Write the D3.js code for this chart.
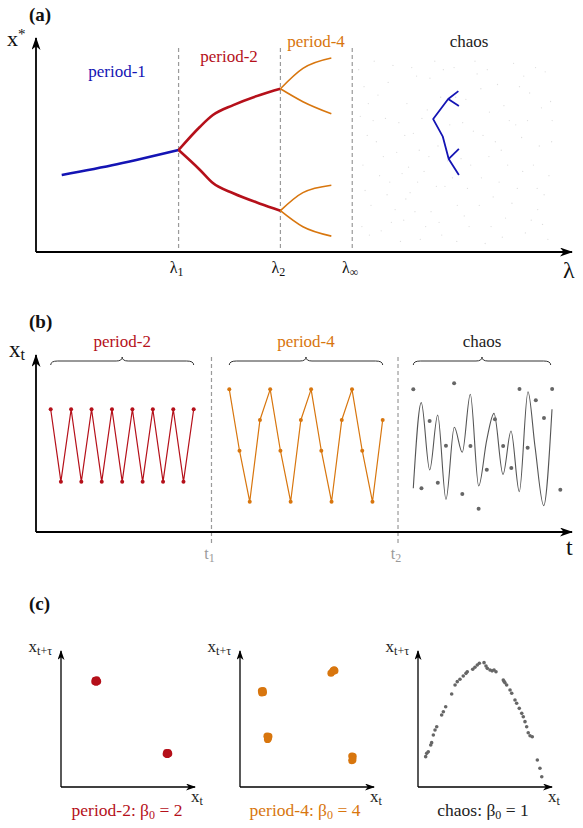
<!DOCTYPE html>
<html>
<head>
<meta charset="utf-8">
<script src="https://cdn.jsdelivr.net/npm/d3@7"></script>
<style>
body { margin: 0; background: #fff; }
</style>
</head>
<body>
<script>
// ---------- panel (a): bifurcation sketch (lambda 0..10, x* 0..1) ----------
var lamTicks = [2.66, 4.56, 5.9];
var lamTickSubs = ["1", "2", "∞"];

var period1 = [[0.48, 0.363], [1.51, 0.414], [2.66, 0.481]];
var period2Up = [[2.66, 0.481], [3.06, 0.591], [3.30, 0.646], [3.68, 0.693], [4.18, 0.741], [4.56, 0.770]];
var period2Down = [[2.66, 0.481], [3.06, 0.387], [3.30, 0.325], [3.68, 0.277], [4.18, 0.228], [4.56, 0.195]];
var period4Branches = [
  [[4.56, 0.770], [4.98, 0.866], [5.51, 0.915]],
  [[4.56, 0.770], [4.98, 0.709], [5.51, 0.652]],
  [[4.56, 0.195], [4.98, 0.280], [5.51, 0.315]],
  [[4.56, 0.195], [4.98, 0.119], [5.51, 0.075]]
];
var treeStem = [[7.88, 0.759], [7.69, 0.722], [7.41, 0.627], [7.59, 0.544], [7.70, 0.439], [7.89, 0.363]];
var treeTwigs = [
  [[7.69, 0.722], [7.89, 0.689]],
  [[7.70, 0.439], [7.89, 0.486]]
];
var chaosCloud = [
  [6.02, 0.86], [6.10, 0.41], [6.18, 0.55], [6.25, 0.22], [6.31, 0.90], [6.38, 0.74], [6.44, 0.10], [6.52, 0.63],
  [6.60, 0.33], [6.66, 0.88], [6.73, 0.47], [6.80, 0.05], [6.86, 0.15], [6.92, 0.70], [6.98, 0.28], [7.04, 0.56],
  [7.10, 0.83], [7.17, 0.06], [7.24, 0.38], [7.30, 0.67], [7.37, 0.19], [7.44, 0.90], [7.50, 0.50], [7.57, 0.08],
  [7.63, 0.31], [7.72, 0.60], [7.80, 0.87], [7.86, 0.22], [7.93, 0.44], [8.02, 0.72], [8.08, 0.12], [8.16, 0.57],
  [8.23, 0.84], [8.31, 0.35], [8.38, 0.04], [8.46, 0.66], [8.53, 0.26], [8.61, 0.79], [8.68, 0.48], [8.76, 0.16],
  [8.83, 0.62], [8.91, 0.89], [8.98, 0.30], [9.06, 0.54], [9.13, 0.09], [9.21, 0.75], [9.28, 0.41], [9.36, 0.20],
  [9.43, 0.68], [9.50, 0.85], [9.57, 0.36], [9.62, 0.52], [6.48, 0.45], [6.95, 0.40], [7.35, 0.82], [7.85, 0.05],
  [8.30, 0.77], [8.70, 0.07], [9.10, 0.83], [9.45, 0.13], [6.20, 0.70], [6.70, 0.20], [7.55, 0.73], [8.45, 0.45],
  [8.95, 0.60], [9.35, 0.30], [6.08, 0.12], [7.15, 0.48], [8.05, 0.30], [9.60, 0.71],
  [6.05, 0.64], [6.14, 0.29], [6.22, 0.08], [6.35, 0.52], [6.41, 0.36], [6.57, 0.80], [6.63, 0.14], [6.77, 0.61],
  [6.83, 0.37], [6.90, 0.25], [7.01, 0.87], [7.07, 0.19], [7.20, 0.63], [7.27, 0.12], [7.33, 0.45], [7.47, 0.31],
  [7.52, 0.14], [7.60, 0.86], [7.68, 0.43], [7.77, 0.35], [7.83, 0.73], [7.96, 0.61], [7.99, 0.17], [8.11, 0.41],
  [8.19, 0.90], [8.27, 0.22], [8.34, 0.55], [8.42, 0.86], [8.49, 0.12], [8.57, 0.52], [8.64, 0.33], [8.73, 0.69],
  [8.80, 0.41], [8.88, 0.23], [9.02, 0.78], [9.08, 0.38], [9.17, 0.62], [9.24, 0.15], [9.32, 0.87], [9.39, 0.50],
  [9.48, 0.27], [9.55, 0.06], [9.63, 0.62], [6.12, 0.78], [6.29, 0.62], [6.55, 0.27], [6.88, 0.55], [7.12, 0.33]
];

// ---------- panel (b): time series (t 0..100, x_t 0..1) ----------
var tMarks = [32.74, 67.54];
var tMarkSubs = ["1", "2"];
var p2Span = [2.74, 29.42];
var p2Values = [0.722, 0.296, 0.722, 0.296, 0.722, 0.296, 0.722, 0.296, 0.722, 0.296, 0.722, 0.296, 0.722, 0.296, 0.722];
var p4Span = [36.06, 64.68];
var p4Values = [0.839, 0.478, 0.178, 0.659, 0.839, 0.478, 0.178, 0.659, 0.839, 0.478, 0.178, 0.659, 0.839, 0.478, 0.178, 0.659];
var chSpan = [70.39, 97.82];
var chValues = [0.839, 0.257, 0.653, 0.290, 0.508, 0.875, 0.224, 0.506, 0.137, 0.366, 0.663, 0.506, 0.376, 0.841, 0.496, 0.775, 0.671, 0.841, 0.249];
var chCurve = [
  [70.39, 0.257], [71.88, 0.761], [73.45, 0.365], [74.94, 0.688], [76.49, 0.192], [78.04, 0.616],
  [79.53, 0.469], [81.03, 0.810], [82.59, 0.271], [84.09, 0.541], [85.45, 0.698], [87.13, 0.339],
  [88.62, 0.594], [90.17, 0.237], [91.79, 0.825], [93.10, 0.502], [94.72, 0.155], [96.27, 0.722]
];

// ---------- panel (c): delay embeddings (0..1 each) ----------
var embP2 = [
  [0.262, 0.810], [0.275, 0.814], [0.283, 0.800], [0.270, 0.792], [0.259, 0.798], [0.278, 0.805], [0.266, 0.803],
  [0.812, 0.262], [0.825, 0.263], [0.830, 0.252], [0.818, 0.245], [0.808, 0.250], [0.822, 0.255]
];
var embP4 = [
  [0.165, 0.728], [0.178, 0.730], [0.180, 0.716], [0.168, 0.712], [0.172, 0.722],
  [0.208, 0.385], [0.222, 0.383], [0.218, 0.368], [0.212, 0.360], [0.214, 0.373],
  [0.700, 0.862], [0.712, 0.875], [0.725, 0.888], [0.730, 0.880], [0.718, 0.884],
  [0.860, 0.235], [0.870, 0.232], [0.866, 0.215], [0.860, 0.200], [0.868, 0.205]
];
var embChaos = [
  [0.059, 0.230], [0.067, 0.255], [0.079, 0.267], [0.098, 0.318], [0.105, 0.336], [0.118, 0.394], [0.131, 0.432],
  [0.144, 0.457], [0.182, 0.545], [0.195, 0.570], [0.213, 0.608], [0.259, 0.705], [0.285, 0.773], [0.302, 0.798],
  [0.323, 0.816], [0.348, 0.841], [0.369, 0.861], [0.379, 0.873], [0.421, 0.892], [0.438, 0.907], [0.456, 0.924],
  [0.472, 0.937], [0.508, 0.942], [0.523, 0.917], [0.533, 0.899], [0.554, 0.886], [0.570, 0.880], [0.585, 0.886],
  [0.600, 0.873], [0.656, 0.811], [0.662, 0.800], [0.669, 0.790], [0.682, 0.773], [0.708, 0.735], [0.721, 0.710],
  [0.746, 0.659], [0.759, 0.634], [0.779, 0.596], [0.798, 0.558], [0.810, 0.532], [0.823, 0.495], [0.836, 0.457],
  [0.848, 0.411], [0.862, 0.388], [0.879, 0.381], [0.918, 0.205], [0.938, 0.142], [0.952, 0.078]
];

var BLUE = "#1414b4", RED = "#b5101a", ORANGE = "#d8760e", GREY = "#666", DASH = "#9a9a9a";
var SERIF = "'Liberation Serif'";

var svg = d3.select("body").append("svg")
  .attr("width", 583)
  .attr("height", 828)
  .style("font-family", SERIF);

var defs = svg.append("defs");
function addMarker(id, len, half) {
  defs.append("marker")
    .attr("id", id)
    .attr("viewBox", "0 " + (-half) + " " + len + " " + (2 * half))
    .attr("refX", len - 1).attr("refY", 0)
    .attr("markerWidth", len).attr("markerHeight", 2 * half)
    .attr("markerUnits", "userSpaceOnUse")
    .attr("orient", "auto")
    .append("path")
    .attr("d", "M0," + (-half) + "L" + len + ",0L0," + half + "L" + (len * 0.28) + ",0Z")
    .attr("fill", "#000");
}
addMarker("arrBig", 13, 4.5);
addMarker("arrSmall", 10, 3.5);

function arrowLine(x1, y1, x2, y2, w, marker) {
  svg.append("line")
    .attr("x1", x1).attr("y1", y1).attr("x2", x2).attr("y2", y2)
    .attr("stroke", "#000").attr("stroke-width", w)
    .attr("marker-end", "url(#" + marker + ")");
}

function subText(x, y, base, sub, size, color, anchor, subSize, subDy) {
  var t = svg.append("text")
    .attr("x", x).attr("y", y)
    .style("font-family", SERIF)
    .attr("font-size", size)
    .attr("fill", color)
    .attr("text-anchor", anchor || "middle");
  t.append("tspan").text(base);
  t.append("tspan").attr("dy", subDy || size * 0.3).attr("font-size", subSize || size * 0.72).text(sub);
  return t;
}

function label(x, y, txt, size, color, anchor, weight) {
  return svg.append("text")
    .attr("x", x).attr("y", y)
    .style("font-family", SERIF)
    .attr("font-size", size)
    .attr("fill", color)
    .attr("font-weight", weight || "normal")
    .attr("text-anchor", anchor || "middle")
    .text(txt);
}

// ===================== (a) =====================
var xA = d3.scaleLinear().domain([0, 10]).range([36, 572]);
var yA = d3.scaleLinear().domain([0, 1]).range([252, 40]);
var lineA = d3.line().x(function(d) { return xA(d[0]); }).y(function(d) { return yA(d[1]); }).curve(d3.curveMonotoneX);
var lineAStraight = d3.line().x(function(d) { return xA(d[0]); }).y(function(d) { return yA(d[1]); });

label(29, 21, "(a)", 19, "#111", "start", "bold");

svg.append("g").selectAll("circle")
  .data(chaosCloud)
  .enter().append("circle")
  .attr("cx", function(d) { return xA(d[0]); })
  .attr("cy", function(d) { return yA(d[1]); })
  .attr("r", 0.65)
  .attr("fill", "#dedede");

svg.append("g").selectAll("line")
  .data(lamTicks)
  .enter().append("line")
  .attr("x1", function(d) { return xA(d); }).attr("x2", function(d) { return xA(d); })
  .attr("y1", 48).attr("y2", yA(0))
  .attr("stroke", DASH).attr("stroke-width", 1.2).attr("stroke-dasharray", "4,3");

arrowLine(xA(0), yA(0), xA(0), yA(0) - 214, 1.8, "arrBig");
arrowLine(xA(0), yA(0), xA(10), yA(0), 1.8, "arrBig");

svg.append("path").datum(period1).attr("d", lineA)
  .attr("fill", "none").attr("stroke", BLUE).attr("stroke-width", 2.6);
[period2Up, period2Down].forEach(function(b) {
  svg.append("path").datum(b).attr("d", lineA)
    .attr("fill", "none").attr("stroke", RED).attr("stroke-width", 2.6);
});
period4Branches.forEach(function(b) {
  svg.append("path").datum(b).attr("d", lineA)
    .attr("fill", "none").attr("stroke", ORANGE).attr("stroke-width", 1.6);
});
svg.append("path").datum(treeStem)
  .attr("d", lineAStraight)
  .attr("fill", "none").attr("stroke", BLUE).attr("stroke-width", 1.8).attr("stroke-linejoin", "round");
treeTwigs.forEach(function(b) {
  svg.append("path").datum(b).attr("d", lineAStraight)
    .attr("fill", "none").attr("stroke", BLUE).attr("stroke-width", 1.8);
});

label(117, 77, "period-1", 17, BLUE);
label(229, 62, "period-2", 17, RED);
label(316, 47, "period-4", 17, ORANGE);
label(469, 47, "chaos", 17, "#222");

var xStar = svg.append("text").attr("x", 7).attr("y", 46).attr("font-size", 22).attr("fill", "#111").style("font-family", SERIF);
xStar.append("tspan").text("x");
xStar.append("tspan").attr("dy", -7).attr("font-size", 15).text("*");

lamTicks.forEach(function(d, i) {
  subText(xA(d) - 2, 273, "λ", lamTickSubs[i], 16, "#111", "middle", 12, 3);
});
label(563, 278, "λ", 24, "#111", "start");

// ===================== (b) =====================
var xB = d3.scaleLinear().domain([0, 100]).range([36, 572]);
var yB = d3.scaleLinear().domain([0, 1]).range([532, 362]);

label(29, 328, "(b)", 19, "#111", "start", "bold");

svg.append("g").selectAll("line")
  .data(tMarks)
  .enter().append("line")
  .attr("x1", function(d) { return xB(d); }).attr("x2", function(d) { return xB(d); })
  .attr("y1", 357).attr("y2", 545)
  .attr("stroke", DASH).attr("stroke-width", 1.2).attr("stroke-dasharray", "4,3");

arrowLine(xB(0), yB(0), xB(0), 355, 1.8, "arrBig");
arrowLine(xB(0), yB(0), xB(100), yB(0), 1.8, "arrBig");

function seriesPts(values, span) {
  var idx = d3.scaleLinear().domain([0, values.length - 1]).range(span);
  return values.map(function(v, i) { return [idx(i), v]; });
}
var lineB = d3.line().x(function(d) { return xB(d[0]); }).y(function(d) { return yB(d[1]); });

function drawSeries(pts, color) {
  svg.append("path").datum(pts).attr("d", lineB)
    .attr("fill", "none").attr("stroke", color).attr("stroke-width", 1.2);
  svg.append("g").selectAll("circle")
    .data(pts)
    .enter().append("circle")
    .attr("cx", function(d) { return xB(d[0]); })
    .attr("cy", function(d) { return yB(d[1]); })
    .attr("r", 2)
    .attr("fill", color);
}
drawSeries(seriesPts(p2Values, p2Span), RED);
drawSeries(seriesPts(p4Values, p4Span), ORANGE);

svg.append("path").datum(chCurve)
  .attr("d", lineB.curve(d3.curveMonotoneX))
  .attr("fill", "none").attr("stroke", "#555").attr("stroke-width", 1.1);
svg.append("g").selectAll("circle")
  .data(seriesPts(chValues, chSpan))
  .enter().append("circle")
  .attr("cx", function(d) { return xB(d[0]); })
  .attr("cy", function(d) { return yB(d[1]); })
  .attr("r", 2)
  .attr("fill", GREY);

function brace(x0, x1, y) {
  var m = (x0 + x1) / 2;
  var d = "M" + x0 + "," + (y + 4) +
    "Q" + x0 + "," + y + " " + (x0 + 7) + "," + y +
    "L" + (m - 6) + "," + y +
    "Q" + m + "," + y + " " + m + "," + (y - 4) +
    "Q" + m + "," + y + " " + (m + 6) + "," + y +
    "L" + (x1 - 7) + "," + y +
    "Q" + x1 + "," + y + " " + x1 + "," + (y + 4);
  svg.append("path").attr("d", d).attr("fill", "none").attr("stroke", "#333").attr("stroke-width", 1);
}
brace(xB(p2Span[0]), xB(p2Span[1]), 361);
brace(xB(p4Span[0]), xB(p4Span[1]), 361);
brace(xB(chSpan[0]), 550.7, 361);

label((xB(p2Span[0]) + xB(p2Span[1])) / 2, 347, "period-2", 17, RED);
label((xB(p4Span[0]) + xB(p4Span[1])) / 2, 347, "period-4", 17, ORANGE);
label((xB(chSpan[0]) + 550.7) / 2, 347, "chaos", 17, "#222");

subText(9, 357, "x", "t", 23, "#111", "start", 16, 3);
tMarks.forEach(function(d, i) {
  subText(xB(d) - 2, 559, "t", tMarkSubs[i], 16, "#999", "middle", 12, 3);
});
label(566, 555, "t", 24, "#111", "start");

// ===================== (c) =====================
label(29, 610, "(c)", 19, "#111", "start", "bold");

var panelsC = [
  { x0: 61, data: embP2, color: RED, r: 3.4, cap: ["period-2: β", "0", " = 2"], capColor: RED, capX: 127 },
  { x0: 240, data: embP4, color: ORANGE, r: 3.6, cap: ["period-4: β", "0", " = 4"], capColor: ORANGE, capX: 305 },
  { x0: 418, data: embChaos, color: GREY, r: 1.8, cap: ["chaos: β", "0", " = 1"], capColor: "#222", capX: 483 }
];

panelsC.forEach(function(p) {
  var xs = d3.scaleLinear().domain([0, 1]).range([p.x0, p.x0 + 130]);
  var ys = d3.scaleLinear().domain([0, 1]).range([787, 655]);
  arrowLine(xs(0), ys(0), xs(0), 651, 1.3, "arrSmall");
  arrowLine(xs(0), ys(0), p.x0 + 134, ys(0), 1.3, "arrSmall");

  svg.append("g").selectAll("circle")
    .data(p.data)
    .enter().append("circle")
    .attr("cx", function(d) { return xs(d[0]); })
    .attr("cy", function(d) { return ys(d[1]); })
    .attr("r", p.r)
    .attr("fill", p.color);

  subText(p.x0 - 9, 652, "x", "t+τ", 17, "#222", "end", 12, 3);
  subText(p.x0 + 130, 802, "x", "t", 17, "#222", "start", 12, 3);

  var c = svg.append("text")
    .attr("x", p.capX).attr("y", 816)
    .style("font-family", SERIF)
    .attr("font-size", 17.5)
    .attr("fill", p.capColor)
    .attr("text-anchor", "middle");
  c.append("tspan").text(p.cap[0]);
  c.append("tspan").attr("dy", 3).attr("font-size", 12).text(p.cap[1]);
  c.append("tspan").attr("dy", -3).text(p.cap[2]);
});
</script>
</body>
</html>
